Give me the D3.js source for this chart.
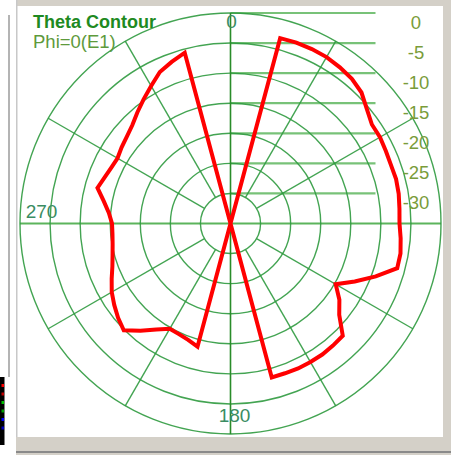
<!DOCTYPE html>
<html><head><meta charset="utf-8">
<script src="https://cdn.jsdelivr.net/npm/d3@7"></script>
<style>body{margin:0;background:#fff;} svg{display:block}</style>
</head><body>
<svg id="c" width="451" height="455"></svg>
<script>
// ---- data ----
const thetaDeg = [0,5,10,15,20,25,30,35,40,45,50,55,60,65,70,75,80,85,90,95,100,105,110,115,120,125,130,135,140,145,150,155,160,165,170,175,
  180,185,190,195,200,205,210,215,220,225,230,235,240,245,250,255,260,265,270,275,280,285,290,295,300,305,310,315,320,325,330,335,340,345,350,355];
const gainDb = [-35,-35,-35,-3.1,-3.0,-3.0,-3.05,-3.3,-3.6,-4.2,-5.4,-6.3,-6.3,-6.5,-6.6,-6.5,-6.6,-6.8,-6.9,-6.6,-6.3,-6.3,-9.3,-12.2,-14.8,-12.9,-11.4,-8.6,-8.5,-8.4,-8.4,-8.4,-8.5,-8.5,-35,-35,
  -35,-35,-35,-13.8,-14.4,-14.7,-14.8,-13.5,-11.7,-9.9,-10.6,-11.4,-12.2,-13.2,-14.1,-14.7,-15.1,-15.3,-15.3,-14.7,-13.6,-12.1,-12.7,-13.1,-13.3,-12.9,-12.5,-11.9,-10.9,-9.8,-8.6,-7.2,-6.4,-5.6,-35,-35];
const ringDb = [-30,-25,-20,-15,-10,-5,0];
const ringLabels = ["-30","-25","-20","-15","-10","-5","0"];
const spokeDeg = [30,60,120,150,210,240,300,330];
const angleLabels = [{text:"0",deg:0},{text:"270",deg:270},{text:"180",deg:180}];
const title = "Theta Contour";
const subtitle = "Phi=0(E1)";
const legendColors = ["#ff0000","#c00000","#00c000","#00a000","#0000ff","#0000c0"];

// ---- drawing ----
const svg = d3.select("#c");
const W = 451, H = 455;
const cx = 230.5, cy = 223.5, R = 210.5;
const r = d3.scaleLinear().domain([-35, 0]).range([0, R]).clamp(true);

// window chrome
svg.append("rect").attr("width", W).attr("height", H).attr("fill", "#ffffff");
svg.append("rect").attr("x", 16).attr("y", 0).attr("width", W - 16).attr("height", 6).attr("fill", "#d4d0c8");
svg.append("rect").attr("x", 443).attr("y", 0).attr("width", 8).attr("height", H).attr("fill", "#d4d0c8");
svg.append("rect").attr("x", 16).attr("y", 437).attr("width", W - 16).attr("height", 18).attr("fill", "#d4d0c8");
svg.append("rect").attr("x", 16).attr("y", 451).attr("width", W - 16).attr("height", 2).attr("fill", "#8a8a8a");
svg.append("rect").attr("x", 16).attr("y", 0).attr("width", 1.5).attr("height", 437).attr("fill", "#c8c8c8");
svg.append("rect").attr("x", 8).attr("y", 15).attr("width", 2).attr("height", 362).attr("fill", "#b4b4b4");
svg.append("rect").attr("x", 0).attr("y", 377).attr("width", 4.5).attr("height", 68).attr("fill", "#000000");
legendColors.forEach((c, i) => {
  svg.append("rect").attr("x", 1.5).attr("y", 384 + i * 8.5).attr("width", 2.5).attr("height", 3).attr("fill", c);
});

const g = svg.append("g").attr("transform", `translate(${cx},${cy})`);
const rad = d => d * Math.PI / 180;

// label lines (light, thicker)
g.selectAll("line.lab").data(ringDb).join("line")
  .attr("x1", 0).attr("x2", 145)
  .attr("y1", d => -r(d)).attr("y2", d => -r(d))
  .attr("stroke", "#78c278").attr("stroke-width", 2.2);
// horizontal axis (light)
g.append("line").attr("x1", -R).attr("x2", R).attr("y1", 0).attr("y2", 0)
  .attr("stroke", "#5cb45c").attr("stroke-width", 2.2);

// rings
g.selectAll("circle.ring").data(ringDb).join("circle")
  .attr("r", d => r(d)).attr("fill", "none")
  .attr("stroke", "#2f9a3f").attr("stroke-width", 1.4).attr("stroke-opacity", 0.9);

// spokes
g.selectAll("line.spoke").data(spokeDeg).join("line")
  .attr("x1", d => r(-30) * Math.sin(rad(d))).attr("y1", d => -r(-30) * Math.cos(rad(d)))
  .attr("x2", d => R * Math.sin(rad(d))).attr("y2", d => -R * Math.cos(rad(d)))
  .attr("stroke", "#2f9a3f").attr("stroke-width", 1.4).attr("stroke-opacity", 0.9);
// vertical axis
g.append("line").attr("x1", 0).attr("x2", 0).attr("y1", -R).attr("y2", R)
  .attr("stroke", "#2a8c2a").attr("stroke-width", 1.6);

// pattern
const pts = thetaDeg.map((t, i) => [rad(t), r(gainDb[i])]);
g.append("path").datum(pts)
  .attr("d", d3.lineRadial().angle(d => d[0]).radius(d => d[1]).curve(d3.curveLinearClosed))
  .attr("fill", "none").attr("stroke", "#ff0000").attr("stroke-width", 4)
  .attr("stroke-linejoin", "miter");

// ring labels
g.selectAll("text.rl").data(ringDb).join("text")
  .attr("x", 185.5).attr("y", d => -r(d) + 16)
  .attr("text-anchor", "middle")
  .attr("font-family", "Liberation Sans, Arial, sans-serif").attr("font-size", 18.5)
  .attr("fill", "#7a9c3a")
  .text((d, i) => ringLabels[i]);

// angle labels
const angPos = {0: [1, -196], 270: [-189, -5.5], 180: [4, 198.5]};
angleLabels.forEach(a => {
  g.append("text").attr("x", angPos[a.deg][0]).attr("y", angPos[a.deg][1])
    .attr("text-anchor", "middle")
    .attr("font-family", "Liberation Sans, Arial, sans-serif").attr("font-size", 19)
    .attr("fill", "#3a8c62").text(a.text);
});

// titles
svg.append("text").attr("x", 33).attr("y", 28)
  .attr("font-family", "Liberation Sans, Arial, sans-serif").attr("font-size", 18).attr("font-weight", "bold")
  .attr("fill", "#1e8a22").text(title);
svg.append("text").attr("x", 33).attr("y", 48)
  .attr("font-family", "Liberation Sans, Arial, sans-serif").attr("font-size", 18.5)
  .attr("fill", "#5e9a3c").text(subtitle);
</script>
</body></html>
